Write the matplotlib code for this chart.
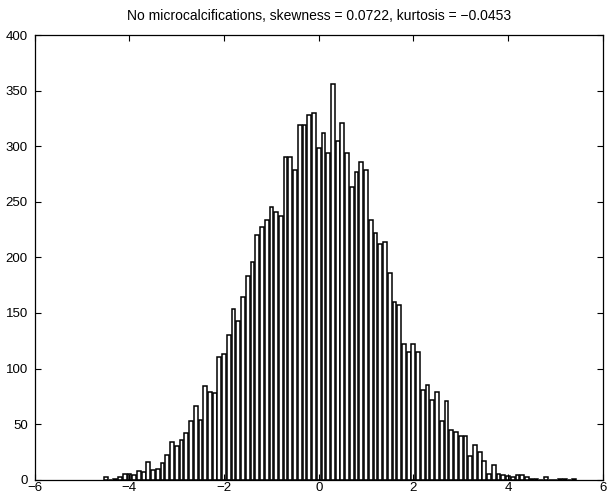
import matplotlib

matplotlib.use("Agg")

import matplotlib.pyplot as plt
import numpy as np

# histogram counts, 100 equal bins (MATLAB hist style)
bin_lo = -4.55
bin_hi = 5.45
counts = [
    2, 0, 1, 2, 5, 5, 4, 8, 7, 16,
    9, 10, 15, 22, 34, 30, 36, 42, 53, 66,
    54, 84, 79, 78, 110, 113, 130, 154, 143, 164,
    183, 196, 220, 227, 234, 245, 241, 237, 290, 290,
    279, 319, 319, 328, 330, 298, 312, 294, 356, 305,
    321, 294, 263, 277, 286, 279, 234, 222, 212, 214,
    186, 160, 157, 122, 115, 122, 115, 81, 85, 72,
    79, 53, 71, 45, 43, 39, 39, 21, 31, 25,
    17, 5, 13, 5, 4, 3, 2, 4, 4, 2,
    1, 1, 0, 2, 0, 0, 1, 1, 0, 1,
]
skewness = 0.0722
kurtosis = -0.0453

x_ticks = [-6, -4, -2, 0, 2, 4, 6]
y_ticks = [0, 50, 100, 150, 200, 250, 300, 350, 400]

plt.rcParams["font.family"] = ["Liberation Sans", "DejaVu Sans"]

fig = plt.figure(figsize=(6.1, 4.95), dpi=100)
ax = fig.add_axes([0.057, 0.031, 0.931, 0.898])

edges = np.linspace(bin_lo, bin_hi, len(counts) + 1)
centers = (edges[:-1] + edges[1:]) / 2
step = edges[1] - edges[0]
ax.bar(centers, counts, width=step * 0.8, facecolor="white",
       edgecolor="black", linewidth=1.1)

ax.set_xlim(-6, 6)
ax.set_ylim(0, 400)
ax.set_xticks(x_ticks)
ax.set_yticks(y_ticks)
ax.set_xticklabels([f"{t}".replace("-", "\u2212") for t in x_ticks])
ax.tick_params(direction="in", top=True, right=True, length=4,
               labelsize=9.5, width=0.8)
ax.tick_params(axis="x", pad=2)
ax.tick_params(axis="y", pad=5)
for side in ax.spines.values():
    side.set_linewidth(0.9)

ax.set_title(
    f"No microcalcifications, skewness = {skewness:.4f}, "
    f"kurtosis = {kurtosis:.4f}".replace("-", "\u2212"),
    fontsize=10, pad=11,
)

fig.savefig("out.png", dpi=100)
